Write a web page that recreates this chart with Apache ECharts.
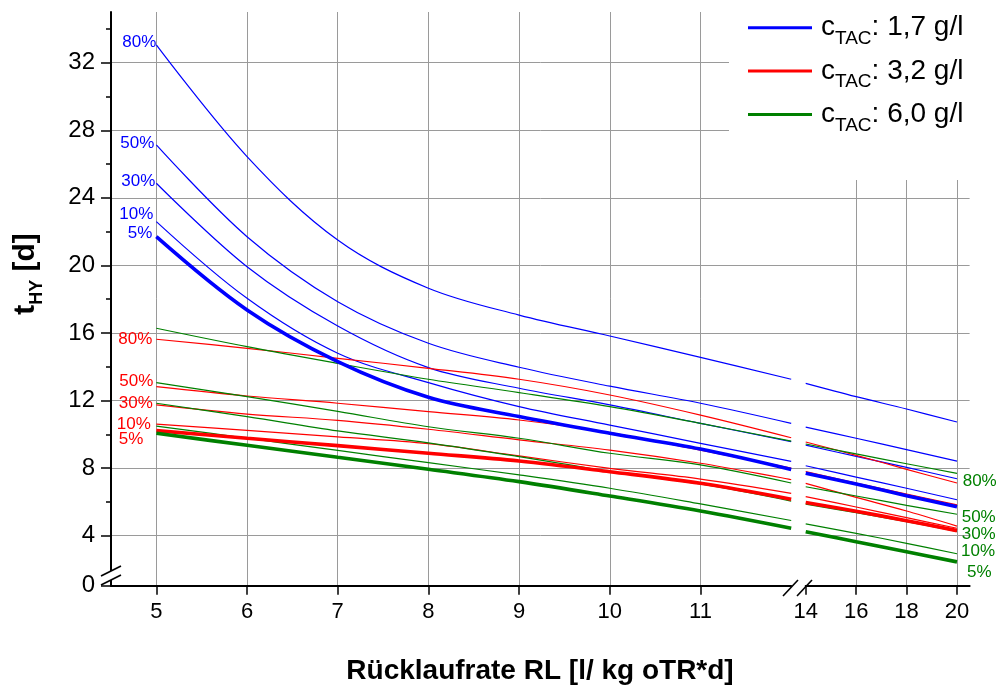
<!DOCTYPE html>
<html><head><meta charset="utf-8">
<script src="https://cdn.jsdelivr.net/npm/echarts@6/dist/echarts.min.js"></script>
<style>html,body{margin:0;padding:0;background:#fff}#c{width:999px;height:687px}</style>
</head><body><div id="c"></div>
<script>
// ---------------- DATA ----------------
const xSeg1 = [5, 6, 7, 8, 9, 10, 11, 12];
const xSeg2 = [14, 16, 18, 20];
const percentLabels = ['5%', '10%', '30%', '50%', '80%'];
const legendNames = ['cTAC: 1,7 g/l', 'cTAC: 3,2 g/l', 'cTAC: 6,0 g/l'];
const yTickValues = [4, 8, 12, 16, 20, 24, 28, 32];
const yMinorTickValues = [6, 10, 14, 18, 22, 26, 30, 34];
const xTickValues1 = [5, 6, 7, 8, 9, 10, 11];
const xTickValues2 = [14, 16, 18, 20];

// c_TAC 1,7 g/l (blue)
const blue5_a  = [21.70, 17.36, 14.30, 12.19, 11.05, 10.06, 9.13, 7.92];
const blue5_b  = [7.70, 7.06, 6.37, 5.72];
const blue10_a = [22.59, 18.05, 14.80, 13.06, 11.64, 10.55, 9.47, 8.40];
const blue10_b = [8.14, 7.47, 6.81, 6.13];
const blue30_a = [24.86, 19.92, 16.41, 13.95, 12.73, 11.74, 10.65, 9.57];
const blue30_b = [9.36, 8.70, 8.05, 7.37];
const blue50_a = [27.13, 21.70, 17.85, 15.39, 13.97, 12.85, 11.84, 10.65];
const blue50_b = [10.43, 9.77, 9.10, 8.42];
const blue80_a = [33.05, 26.44, 21.50, 18.65, 17.06, 15.82, 14.56, 13.26];
const blue80_b = [13.02, 12.23, 11.50, 10.73];

// c_TAC 3,2 g/l (red)
const red5_a  = [10.22, 9.77, 9.33, 8.88, 8.42, 7.79, 7.10, 6.16];
const red5_b  = [5.97, 5.45, 4.89, 4.30];
const red10_a = [10.61, 10.23, 9.85, 9.45, 8.72, 7.99, 7.35, 6.51];
const red10_b = [6.31, 5.70, 5.07, 4.44];
const red30_a = [11.74, 11.20, 10.83, 10.30, 9.67, 9.07, 8.29, 7.32];
const red30_b = [7.10, 6.27, 5.46, 4.57];
const red50_a = [12.82, 12.27, 11.84, 11.34, 10.85, 10.10, 9.07, 8.00];
const red50_b = [7.80, 7.12, 6.47, 5.83];
const red80_a = [15.63, 15.09, 14.50, 13.91, 13.26, 12.33, 11.14, 9.80];
const red80_b = [9.55, 8.76, 7.93, 7.12];

// c_TAC 6,0 g/l (green)
const green5_a  = [10.06, 9.35, 8.64, 7.93, 7.20, 6.35, 5.46, 4.44];
const green5_b  = [4.24, 3.64, 3.05, 2.45];
const green10_a = [10.49, 9.77, 9.05, 8.32, 7.60, 6.81, 5.88, 4.90];
const green10_b = [4.70, 4.14, 3.55, 2.93];
const green30_a = [11.84, 11.05, 10.20, 9.50, 8.68, 7.80, 7.06, 6.05];
const green30_b = [5.87, 5.36, 4.83, 4.25];
const green50_a = [13.06, 12.23, 11.36, 10.45, 9.77, 8.88, 8.19, 7.12];
const green50_b = [6.90, 6.35, 5.80, 5.27];
const green80_a = [16.28, 15.19, 14.20, 13.26, 12.47, 11.64, 10.65, 9.60];
const green80_b = [9.43, 8.84, 8.26, 7.69];

// ---------------- LAYOUT / STYLE ----------------
const FONT = '"Liberation Sans", Arial, Helvetica, sans-serif';
const L = { left: 111, aRight: 791.2, bLeft: 805.7, bRight: 969.6, top: 12, bTop: 180, bottom: 585.7 };
const Y_MIN = 1.04, Y_MAX = 35, YB_MAX = 25.06;
const GRID_COLOR = '#9a9a9a';

const sets = [
  { name: legendNames[0], color: '#0000ff', side: 'left',
    a: [blue5_a, blue10_a, blue30_a, blue50_a, blue80_a], b: [blue5_b, blue10_b, blue30_b, blue50_b, blue80_b],
    off: [[-4, -3], [-3, -7], [-1, -2], [-2, -2], [0, -3]] },
  { name: legendNames[1], color: '#ff0000', side: 'left',
    a: [red5_a, red10_a, red30_a, red50_a, red80_a], b: [red5_b, red10_b, red30_b, red50_b, red80_b],
    off: [[-13, 9], [-5.5, 0], [-3.5, -2], [-3, -5], [-4, 0]] },
  { name: legendNames[2], color: '#008000', side: 'right',
    a: [green5_a, green10_a, green30_a, green50_a, green80_a], b: [green5_b, green10_b, green30_b, green50_b, green80_b],
    off: [[10, 10], [4, -2], [4.7, 3], [4.7, 3], [5.7, 8]] }
];

const series = [];
sets.forEach(set => {
  for (let k = 0; k < 5; k++) {
    const thick = k === 0;
    const base = {
      type: 'line', name: set.name, color: set.color, silent: true,
      showSymbol: true, symbol: 'circle', symbolSize: 0,
      smooth: 0.35,
      lineStyle: { color: set.color, width: thick ? 3.6 : 1.2 },
      emphasis: { disabled: true }, animation: false, z: thick ? 3 : 2
    };
    const lab = (pos) => ({ show: true, position: pos, distance: 0, offset: set.off[k],
      formatter: percentLabels[k], color: set.color, fontSize: 17, fontFamily: FONT });
    const d1 = xSeg1.map((x, j) => (set.side === 'left' && j === 0)
      ? { value: [x, set.a[k][j]], label: lab('left') } : [x, set.a[k][j]]);
    const d2 = xSeg2.map((x, j) => (set.side === 'right' && j === xSeg2.length - 1)
      ? { value: [x, set.b[k][j]], label: lab('right') } : [x, set.b[k][j]]);
    series.push(Object.assign({}, base, { xAxisIndex: 1, yAxisIndex: 1, data: d1 }));
    series.push(Object.assign({}, base, { xAxisIndex: 2, yAxisIndex: 3, data: d2 }));
  }
});

const axisBlack = { show: true, lineStyle: { color: '#000', width: 2 } };
const chart = echarts.init(document.getElementById('c'), null, { renderer: 'canvas' });

const line = (x1, y1, x2, y2) => ({ type: 'line', z: 60, silent: true,
  shape: { x1, y1, x2, y2 }, style: { stroke: '#000', lineWidth: 1.6 } });

chart.setOption({
  animation: false,
  backgroundColor: '#fff',
  textStyle: { fontFamily: FONT },
  grid: [
    { left: L.left, top: L.top, width: L.bRight - L.left, height: L.bottom - L.top },
    { left: L.left, top: L.top, width: L.aRight - L.left, height: L.bottom - L.top },
    { left: L.bLeft, top: L.bTop, width: L.bRight - L.bLeft, height: L.bottom - L.bTop }
  ],
  xAxis: [
    { gridIndex: 0, type: 'value', min: 0, max: 1, show: false },
    { gridIndex: 1, type: 'value', min: 4.5, max: 12,
      axisLine: axisBlack,
      axisTick: { show: true, inside: false, length: 9, customValues: xTickValues1, lineStyle: { color: '#000', width: 1.5 } },
      axisLabel: { show: true, customValues: xTickValues1, color: '#000', fontSize: 22, margin: 15, fontFamily: FONT },
      splitLine: { show: true, lineStyle: { color: GRID_COLOR, width: 1 }, showMinLine: true, showMaxLine: true } },
    { gridIndex: 2, type: 'value', min: 14, max: 20.5,
      axisLine: axisBlack,
      axisTick: { show: true, inside: false, length: 9, customValues: xTickValues2, lineStyle: { color: '#000', width: 1.5 } },
      axisLabel: { show: true, customValues: xTickValues2, color: '#000', fontSize: 22, margin: 15, fontFamily: FONT },
      splitLine: { show: true, lineStyle: { color: GRID_COLOR, width: 1 }, showMinLine: false, showMaxLine: true } }
  ],
  yAxis: [
    { gridIndex: 0, type: 'value', min: Y_MIN, max: Y_MAX,
      axisLine: { show: false }, axisLabel: { show: false },
      axisTick: { show: false, customValues: yTickValues },
      splitLine: { show: true, lineStyle: { color: GRID_COLOR, width: 1 } } },
    { gridIndex: 1, type: 'value', min: Y_MIN, max: Y_MAX,
      axisLine: axisBlack,
      axisTick: { show: true, inside: false, length: 10, customValues: [Y_MIN].concat(yTickValues), lineStyle: { color: '#000', width: 1.5 } },
      axisLabel: { show: true, customValues: [Y_MIN].concat(yTickValues), color: '#000', fontSize: 24, margin: 16, fontFamily: FONT,
        formatter: v => (v < 2 ? '0' : String(Math.round(v))) },
      splitLine: { show: false } },
    { gridIndex: 1, type: 'value', min: Y_MIN, max: Y_MAX, position: 'left',
      axisLine: { show: false }, axisLabel: { show: false },
      axisTick: { show: true, inside: false, length: 5, customValues: yMinorTickValues, lineStyle: { color: '#000', width: 1.5 } },
      splitLine: { show: false } },
    { gridIndex: 2, type: 'value', min: Y_MIN, max: YB_MAX, show: false, splitLine: { show: false } }
  ],
  legend: {
    orient: 'vertical', left: 729, top: 0,
    padding: [13.7, 24, 22, 19],
    backgroundColor: '#fff',
    icon: 'rect', itemWidth: 64, itemHeight: 3, itemGap: 8.9,
    selectedMode: false,
    data: legendNames,
    formatter: n => '{f|c}{s|TAC}{a|' + n.slice(4) + '}',
    textStyle: { color: '#000', fontSize: 28, fontFamily: FONT,
      rich: {
        f: { fontSize: 28, color: '#000', fontFamily: FONT, padding: [0, 0, 0, 4] },
        a: { fontSize: 28, color: '#000', fontFamily: FONT },
        s: { fontSize: 19, color: '#000', fontFamily: FONT, padding: [22, 0, 0, 0] }
      } }
  },
  graphic: [
    { type: 'text', silent: true, x: 540, y: 671,
      style: { text: 'Rücklaufrate RL [l/ kg oTR*d]', fill: '#000', font: 'bold 28px ' + FONT, align: 'center', verticalAlign: 'middle' } },
    { type: 'text', silent: true, x: 26, y: 274, rotation: Math.PI / 2,
      style: { text: '{b|t}{s|HY}{b| [d]}', align: 'center', verticalAlign: 'middle',
        rich: {
          b: { fontSize: 30, fontWeight: 'bold', fontFamily: FONT, fill: '#000' },
          s: { fontSize: 18, fontWeight: 'bold', fontFamily: FONT, fill: '#000', padding: [22, 0, 0, 0] }
        } } },
    // y-axis break
    { type: 'polygon', silent: true, z: 59, shape: { points: [[106, 573.5], [117, 568], [117, 577], [106, 582.5]] }, style: { fill: '#fff' } },
    line(101, 576, 121, 566),
    line(101, 585, 121, 575),
    // x-axis break
    line(783, 596, 798, 580),
    line(797, 596, 812, 580)
  ],
  series: series
});
</script></body></html>
